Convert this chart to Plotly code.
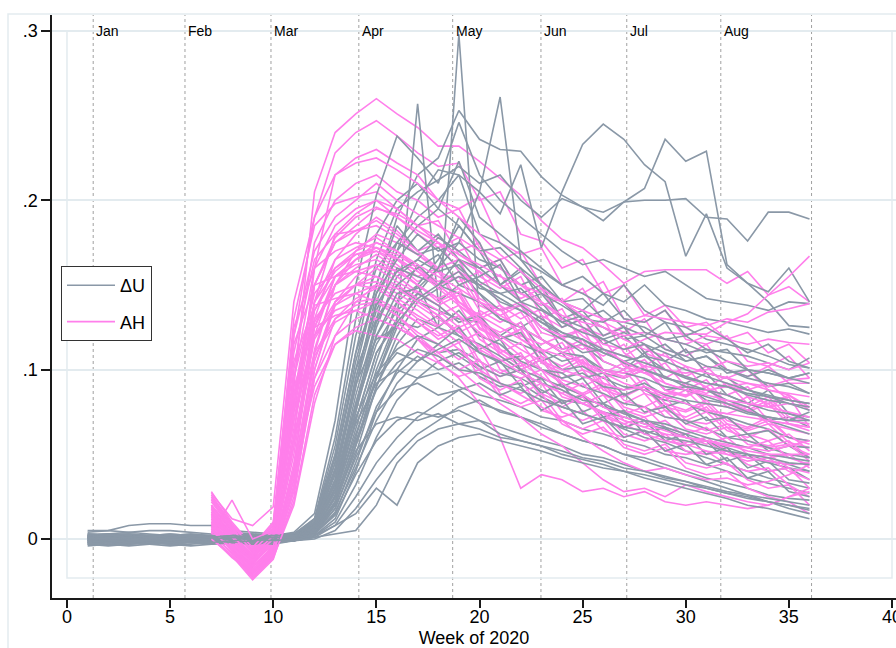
import plotly.graph_objects as go

# ---------------- data (values in thousandths) ----------------
du_start_week = 1
ah_start_week = 7

# ΔU lines: weeks 1-11 (flat part)
du_flat = [
    [1,2,0,1,-1,0,1,0,-1,0,2],
    [-2,-1,-2,-3,-2,-1,-2,-1,0,-1,1],
    [4,5,8,9,9,8,8,5,4,3,3],
    [0,-1,0,1,0,-1,0,0,1,2,3],
    [2,3,3,2,2,1,1,2,1,0,1],
    [-3,-2,-3,-2,-1,-2,-3,-2,-1,-2,0],
    [5,5,4,5,5,4,3,4,3,2,4],
    [1,0,-1,-1,0,0,-1,-2,-1,0,1],
    [-1,0,1,0,-1,-1,0,1,0,1,2],
    [3,2,1,2,3,2,1,1,2,1,2],
    [-4,-3,-2,-3,-4,-3,-2,-3,-2,-1,0],
    [0,1,2,1,0,1,2,1,0,1,0],
    [2,1,0,-1,0,1,0,-1,0,1,3],
    [-2,-3,-4,-3,-2,-1,-2,-3,-2,-1,-1],
    [1,1,2,2,1,0,0,1,2,1,2],
    [-1,-2,-1,0,-1,-2,-1,0,-1,0,1],
    [3,3,2,1,2,3,2,1,0,1,2],
    [0,0,-1,-2,-1,0,1,0,-1,-1,0],
    [-3,-4,-3,-2,-3,-2,-1,-2,-3,-2,-1],
    [2,0,1,2,1,0,1,2,1,2,3],
    [1,2,1,0,-1,0,1,2,1,0,0],
    [-2,-1,0,-1,-2,-1,0,-1,0,1,2],
    [0,-1,-2,-1,0,-1,-2,-1,0,0,-1],
    [2,3,4,3,2,3,2,1,2,1,2],
    [-1,-1,0,1,0,-1,0,-1,-2,-1,0],
    [1,0,1,2,3,2,1,0,1,2,2],
    [-2,-2,-1,-2,-3,-4,-3,-2,-1,-2,-1],
    [0,1,0,-1,0,1,0,1,0,-1,0],
    [-1,-2,-3,-2,-1,-2,-1,-2,-3,-2,-1],
    [2,1,2,1,0,1,2,1,0,0,1],
    [-1,0,-1,-2,-1,0,-1,-2,-1,-2,-1],
    [0,-1,-2,-3,-2,-1,-2,-1,-2,-3,-1],
    [1,0,-1,0,1,0,-1,0,-1,-2,-1],
    [3,2,3,2,1,2,1,2,3,2,3],
    [-2,-1,-1,0,1,0,-1,0,1,0,2],
    [1,2,3,2,1,2,1,0,1,2,3],
    [-1,0,1,2,1,0,-1,0,1,0,1],
    [2,1,0,1,0,-1,0,1,2,1,2],
    [-3,-2,-1,-2,-3,-2,-1,-2,-1,0,-1],
    [0,1,0,-1,-2,-1,0,1,0,1,1],
    [1,0,1,2,1,0,1,2,1,2,2],
    [-1,-2,-1,-1,0,-1,-2,-1,0,-1,0],
]

# ΔU lines: weeks 12-36
du_rise = [
    [8,35,80,120,140,150,125,298,130,120,128,112,105,108,98,95,100,88,90,82,80,76,70,72,66],
    [10,45,100,150,190,215,225,253,236,230,229,214,203,196,193,199,200,200,201,190,189,176,193,193,189],
    [6,30,75,130,170,200,218,215,205,192,221,172,205,233,245,236,221,211,167,192,160,151,146,160,140],
    [12,50,110,165,195,205,212,220,210,215,200,190,201,196,188,199,207,236,223,229,162,151,140,126,125],
    [5,25,70,110,130,257,140,150,145,130,125,132,112,115,105,100,110,95,92,98,85,80,88,74,72],
    [4,20,55,95,125,145,160,175,205,261,165,150,140,130,135,125,120,128,110,112,105,100,98,95,98],
    [15,70,150,203,238,225,210,246,215,200,190,180,170,162,165,160,155,158,150,142,140,138,135,140,139],
    [8,40,95,140,170,185,195,223,190,180,170,160,150,155,145,140,150,138,135,130,128,125,122,124,121],
    [12,60,130,180,200,210,195,185,170,172,160,150,140,142,130,128,125,118,120,112,110,108,104,100,107],
    [7,35,90,145,175,190,200,215,180,175,165,158,150,145,138,150,135,128,125,118,115,112,108,103,101],
    [9,45,105,150,185,170,180,165,160,150,140,145,130,125,118,122,115,110,105,108,100,96,100,95,98],
    [6,30,80,125,155,165,178,170,160,165,145,150,130,135,120,125,110,115,105,108,98,100,90,92,86],
    [11,55,120,160,175,168,172,160,150,140,135,128,120,118,110,105,108,100,95,92,90,85,82,80,76],
    [4,22,60,100,130,150,165,185,170,150,160,140,125,130,115,120,108,105,112,98,95,88,85,82,80],
    [8,38,90,135,160,155,150,145,140,130,125,118,110,108,100,98,95,90,88,84,80,75,72,70,70],
    [5,25,65,105,140,162,150,158,145,135,138,125,118,110,112,104,100,96,90,88,82,78,70,66,62],
    [10,48,100,130,150,140,135,130,128,120,115,110,100,102,95,90,88,82,80,75,72,68,65,60,58],
    [3,18,50,90,120,140,148,155,150,142,135,128,122,115,110,105,100,95,92,88,85,80,76,74,70],
    [7,33,78,115,135,145,138,128,132,118,122,105,110,95,98,85,90,78,82,70,72,62,64,55,54],
    [6,28,70,110,128,125,132,120,112,118,100,106,90,95,80,86,75,78,68,72,60,62,52,55,48],
    [4,20,55,90,115,130,125,135,120,115,105,100,98,90,86,80,78,72,70,65,60,58,54,50,48],
    [9,42,92,118,125,118,110,112,105,98,95,88,82,80,75,72,68,65,60,58,52,48,45,42,40],
    [2,12,40,75,100,118,125,120,115,108,100,95,90,85,78,75,70,66,62,58,54,50,46,44,40],
    [5,26,62,95,110,105,115,108,100,105,90,95,80,85,72,76,62,66,55,58,46,50,40,42,35],
    [3,15,45,78,98,108,100,104,96,90,92,84,78,74,70,65,60,57,52,48,44,40,36,33,30],
    [6,30,68,92,100,95,98,90,85,82,78,72,70,65,62,58,55,50,48,44,40,36,33,30,27],
    [2,10,32,60,82,95,105,110,102,96,100,86,92,75,80,66,70,58,62,50,54,42,46,35,33],
    [4,18,48,75,88,92,85,88,80,76,72,68,62,58,55,50,48,44,40,36,33,30,26,24,23],
    [1,8,25,45,60,72,80,88,92,85,90,76,82,68,72,60,64,52,56,44,48,36,40,28,25],
    [3,14,38,58,70,75,72,76,70,66,62,58,55,50,48,44,40,37,34,30,27,24,22,20,17],
    [0,5,18,35,50,62,70,78,82,75,72,66,62,58,55,50,46,42,38,34,30,26,22,18,15],
    [2,8,15,30,20,45,55,60,62,58,55,52,48,45,42,40,36,33,30,27,24,20,18,15,12],
    [1,3,5,20,45,58,65,68,70,62,58,55,50,47,44,40,38,35,32,30,27,25,22,20,18],
    [5,22,52,68,72,70,74,68,65,60,58,55,52,48,46,42,40,36,34,31,28,26,24,22,20],
    [8,35,72,98,112,120,115,125,110,105,108,100,95,98,90,88,92,85,82,80,78,74,72,70,75],
    [10,50,110,145,165,180,170,175,165,160,150,155,140,135,145,130,128,135,120,125,118,110,115,105,101],
    [7,32,85,128,150,160,168,150,155,162,140,135,128,132,125,118,120,112,108,102,100,95,92,90,86],
    [6,28,75,120,145,148,160,190,175,150,158,145,138,130,128,135,122,118,115,110,112,100,98,95,92],
    [3,16,42,70,92,105,112,118,110,104,98,92,88,82,80,74,70,68,64,60,57,54,50,48,46],
    [5,24,58,88,104,112,108,100,98,92,88,82,78,74,70,66,64,60,58,55,52,50,48,45,44],
    [4,21,56,96,128,142,150,165,152,145,148,136,128,122,118,112,115,105,100,96,92,88,84,82,80],
    [8,40,95,138,158,165,158,162,148,145,138,130,122,118,112,108,104,100,96,92,90,86,84,80,78],
]

# AH lines: weeks 7-36
ah_lines = [
    [12,2,-10,-2,90,205,240,251,260,251,243,232,232,223,213,203,188,177,172,162,151,158,159,159,159,151,158,144,149,140],
    [20,5,-15,0,120,190,228,240,247,238,228,220,222,200,205,180,176,160,165,145,150,132,138,125,128,118,122,110,115,104],
    [8,-2,-18,-6,60,160,215,225,230,222,215,200,195,202,175,168,172,150,145,152,130,128,135,118,115,120,105,102,108,95],
    [15,0,-12,3,100,175,200,210,215,205,200,190,195,172,165,170,150,140,148,128,122,130,112,108,115,100,96,102,92,92],
    [25,8,-8,5,130,185,198,202,205,195,185,188,168,160,165,145,138,142,125,120,126,110,105,112,98,95,100,88,85,78],
    [5,-5,-20,-8,40,140,180,192,200,190,180,172,178,155,148,155,132,125,130,112,108,115,100,96,102,90,88,92,82,80],
    [18,3,-10,2,85,150,175,185,195,192,185,178,170,175,150,142,148,128,122,130,110,102,110,95,90,96,84,80,85,76],
    [10,-3,-16,-4,55,130,165,180,190,182,170,175,158,150,156,140,130,136,115,108,115,100,95,102,88,85,90,78,75,72],
    [22,6,-6,8,110,165,180,182,185,178,168,160,165,142,135,140,122,118,124,105,100,106,92,88,94,80,78,84,72,70],
    [3,-8,-22,-10,30,110,150,170,180,175,168,158,152,158,138,130,136,118,112,118,102,98,104,90,86,92,80,78,84,66],
    [14,1,-13,0,75,140,165,172,178,170,160,152,158,138,132,138,118,112,118,100,96,102,88,85,90,80,76,82,70,68],
    [28,10,-4,10,125,160,170,175,172,165,155,160,140,132,138,120,115,120,102,98,104,90,85,92,80,78,84,70,68,64],
    [6,-6,-19,-7,45,120,155,165,172,168,160,150,155,135,128,134,118,110,115,100,95,100,88,84,90,78,75,80,68,66],
    [16,2,-9,4,95,145,160,168,170,162,152,158,138,130,136,118,110,116,100,95,100,86,82,88,76,74,78,68,65,62],
    [9,-4,-17,-5,50,125,150,160,168,160,150,142,148,128,122,128,108,102,108,92,88,94,80,76,82,70,66,72,60,58],
    [20,4,-11,1,80,135,155,162,165,158,150,140,146,125,118,124,105,100,106,90,85,90,78,75,80,68,65,70,60,56],
    [12,-1,-14,-3,65,128,150,158,162,155,146,138,144,124,118,124,104,98,104,88,84,90,76,72,78,66,64,68,57,54],
    [2,-10,-24,-12,25,100,138,150,160,152,145,138,128,134,112,106,112,94,90,96,82,78,84,70,68,72,62,58,62,52],
    [26,9,-5,6,115,150,155,158,155,148,140,132,138,118,110,116,100,95,100,85,80,86,72,70,75,64,60,65,55,50],
    [7,-7,-21,-9,35,105,140,150,155,150,142,135,125,130,110,102,108,92,86,92,78,74,80,68,64,68,58,55,58,48],
    [17,3,-12,2,85,130,145,150,152,145,138,130,122,128,108,100,106,90,85,90,76,72,76,65,62,66,56,54,56,46],
    [11,-2,-15,-2,60,118,138,145,150,142,135,126,132,112,105,110,92,86,92,78,74,78,66,62,66,57,54,58,48,44],
    [4,-9,-23,-11,28,95,130,142,148,140,132,125,116,122,100,95,100,84,80,85,70,66,70,60,56,60,50,48,50,42],
    [23,7,-7,7,105,138,142,145,140,135,128,120,126,105,98,104,86,80,86,72,68,72,60,57,60,52,48,50,42,39],
    [13,0,-14,-1,70,120,135,140,142,136,128,118,124,102,96,100,84,78,84,70,66,70,58,55,58,50,46,48,40,35],
    [8,-5,-18,-6,42,108,128,135,140,132,122,115,106,112,92,86,92,75,70,75,62,58,62,52,50,52,44,40,42,30],
    [19,5,-8,3,90,125,132,135,130,125,118,110,116,95,88,94,76,72,76,64,60,64,52,50,52,44,40,42,32,25],
    [1,-11,-20,-10,22,85,115,125,130,125,118,108,100,106,86,80,86,70,65,70,56,52,56,45,42,45,35,30,32,20],
    [10,-3,-12,-4,40,90,115,123,120,118,110,104,96,100,84,78,82,68,62,66,54,50,54,42,38,40,30,25,22,15],
    [15,2,-10,1,80,150,175,182,188,180,170,160,165,140,135,138,125,120,124,115,112,118,122,121,121,128,133,144,155,167],
    [5,-6,-16,-6,35,95,120,130,135,128,118,105,95,80,60,30,38,35,28,30,25,28,22,20,22,20,18,20,25,28],
    [12,0,-13,-3,60,110,130,138,140,132,120,110,100,90,80,72,62,55,45,35,28,30,25,32,28,25,22,20,25,30],
    [18,3,-9,2,75,120,140,150,148,140,130,122,112,100,92,85,78,70,60,52,45,40,42,38,35,36,32,34,38,44],
    [9,-4,-16,-5,55,125,155,165,170,165,158,150,140,132,125,118,112,108,104,100,98,102,100,98,100,105,102,104,100,104],
    [20,6,-7,5,95,160,185,195,200,195,185,175,165,158,150,145,140,132,128,125,120,122,118,115,120,118,115,118,116,115],
    [7,-6,-19,-8,38,112,150,165,175,170,160,150,140,130,120,112,105,100,96,92,88,90,86,85,88,90,92,90,94,95],
    [24,8,-5,9,120,170,190,200,210,200,192,185,178,170,160,150,140,130,120,112,105,98,92,88,85,82,80,78,80,78],
    [14,1,-11,0,78,150,178,190,196,190,182,175,168,162,155,150,145,140,135,130,128,132,130,128,126,130,128,134,136,139],
    [6,-7,-20,-9,32,100,140,155,162,158,150,142,132,122,112,104,96,88,80,74,68,62,58,56,52,50,48,46,44,45],
    [16,2,-10,2,85,140,158,168,172,166,158,148,138,128,118,108,100,92,85,78,72,68,64,60,58,55,54,52,55,58],
    [27,12,8,19,140,190,215,222,225,218,210,200,190,180,168,158,148,140,132,125,118,112,108,102,98,95,92,88,86,84],
    [0,-10,-22,-11,20,80,120,140,150,148,140,132,122,114,106,98,92,86,80,75,70,66,62,60,58,56,52,50,50,50],
    [3,23,0,5,70,135,160,170,175,170,162,155,148,140,132,125,118,110,105,98,92,88,84,80,76,74,72,70,68,66],
]

month_weeks = [1.27, 5.72, 9.89, 14.15, 18.7, 22.98, 27.14, 31.7, 36.1]
month_labels = ["Jan", "Feb", "Mar", "Apr", "May", "Jun", "Jul", "Aug", ""]
x_tick_vals = [0, 5, 10, 15, 20, 25, 30, 35, 40]
y_tick_vals = [0, 0.1, 0.2, 0.3]
y_tick_text = ["0", ".1", ".2", ".3"]

# ---------------- styling ----------------
GRAY = "#8A98A7"
PINK = "#FF7FEB"
GRID = "#E3EBEF"
AXIS = "#1a1a1a"
FONT = "Liberation Sans, Arial, Helvetica, sans-serif"
LW = 1.6

fig = go.Figure()

n = max(len(du_rise), len(ah_lines))
for i in range(n):
    if i < len(ah_lines):
        vals = [v / 1000 for v in ah_lines[i]]
        fig.add_trace(go.Scatter(
            x=[ah_start_week + k for k in range(len(vals))], y=vals,
            mode="lines", line=dict(color=PINK, width=LW),
            name="AH", legendgroup="ah", showlegend=(i == 0), legendrank=2,
            hoverinfo="skip"))
    if i < len(du_rise):
        vals = [v / 1000 for v in du_flat[i] + du_rise[i]]
        fig.add_trace(go.Scatter(
            x=[du_start_week + k for k in range(len(vals))], y=vals,
            mode="lines", line=dict(color=GRAY, width=LW),
            name="ΔU", legendgroup="du", showlegend=(i == 0), legendrank=1,
            hoverinfo="skip"))

shapes = []
# outer graph-region frame
shapes.append(dict(type="rect", xref="paper", yref="paper",
                   x0=(8 - 52) / 844, x1=1.2, y0=-0.3, y1=(598 - 14) / 583,
                   line=dict(color=GRID, width=1.5), layer="below"))
# inner plot-region frame
shapes.append(dict(type="rect", xref="x", yref="y", x0=0, x1=40, y0=-0.023, y1=0.3,
                   line=dict(color=GRID, width=1.5), layer="below"))
for mw in month_weeks:
    shapes.append(dict(type="line", xref="x", yref="paper", x0=mw, x1=mw, y0=0, y1=1,
                       line=dict(color="#A0A0A0", width=1, dash="dot"), layer="below"))

annotations = []
for mw, lab in zip(month_weeks, month_labels):
    if lab:
        annotations.append(dict(x=mw, y=0.3, xref="x", yref="y", text=lab,
                                showarrow=False, xanchor="left", yanchor="middle",
                                xshift=1, font=dict(size=14, color="black", family=FONT)))

fig.update_layout(
    width=896, height=648,
    margin=dict(l=52, r=0, t=15, b=50, autoexpand=False),
    paper_bgcolor="white", plot_bgcolor="rgba(0,0,0,0)",
    font=dict(family=FONT, size=18, color="black"),
    shapes=shapes, annotations=annotations,
    showlegend=True,
    legend=dict(x=(61 - 52) / 844, y=(598 - 266) / 583, xanchor="left", yanchor="top",
                bgcolor="white", bordercolor="#333333", borderwidth=1,
                font=dict(size=18, family=FONT, color="black"),
                tracegroupgap=10, itemwidth=48),
    xaxis=dict(range=[-0.727, 40.194], showline=True, linecolor=AXIS, linewidth=1.5,
               ticks="outside", ticklen=8, tickwidth=1.5, tickcolor=AXIS,
               tickvals=x_tick_vals, showgrid=False, zeroline=False, automargin=False,
               ticklabelstandoff=-6, ticklabeloverflow="allow",
               tickfont=dict(size=18, family=FONT, color="black"),
               title=dict(text="Week of 2020", standoff=8,
                          font=dict(size=18, family=FONT, color="black"))),
    yaxis=dict(range=[-0.0348, 0.3094], showline=True, linecolor=AXIS, linewidth=1.5,
               ticks="outside", ticklen=9, tickwidth=1.5, tickcolor=AXIS,
               tickvals=y_tick_vals, ticktext=y_tick_text, automargin=False,
               showgrid=True, gridcolor=GRID, gridwidth=1.5, zeroline=False,
               tickfont=dict(size=18, family=FONT, color="black")),
)

fig.write_html("out.html")
